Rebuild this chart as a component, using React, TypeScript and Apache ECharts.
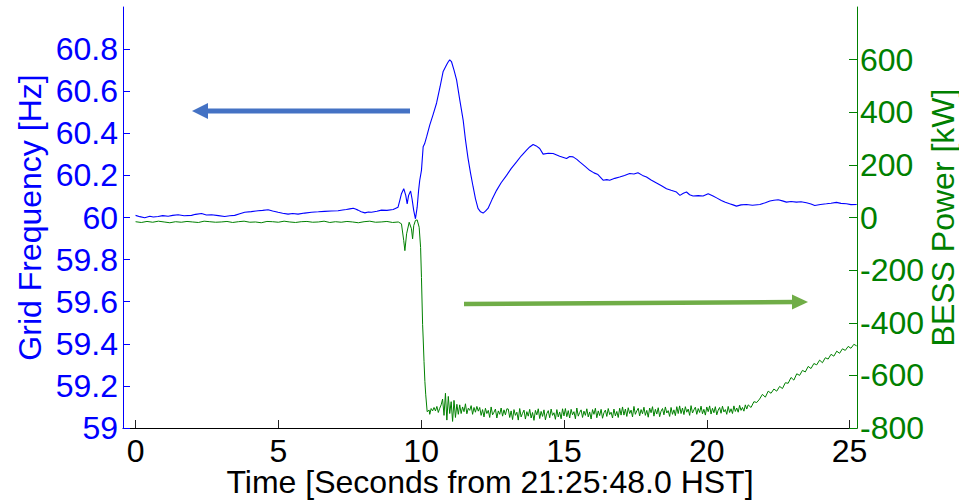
import React, { useEffect, useRef } from "react";
import * as echarts from "echarts";

// ---- tick labels ----
const X_TICKS = [0, 5, 10, 15, 20, 25];
const FREQ_TICKS = [59, 59.2, 59.4, 59.6, 59.8, 60, 60.2, 60.4, 60.6, 60.8];
const POWER_TICKS = [-800, -600, -400, -200, 0, 200, 400, 600];

// ---- grid frequency [Hz], [time s, value] ----
const FREQ: [number, number][] = [
  [0.0, 60.01], [0.15, 60.004], [0.32, 59.999], [0.5, 60.006], [0.62, 60.002], [0.79, 60.005],
  [0.95, 60.009], [1.14, 60.006], [1.3, 60.01], [1.49, 60.013], [1.7, 60.008], [1.96, 60.01],
  [2.1, 60.015], [2.31, 60.019], [2.48, 60.012], [2.66, 60.013], [2.9, 60.009], [3.12, 60.005],
  [3.3, 60.008], [3.47, 60.01], [3.65, 60.018], [3.82, 60.025], [4.05, 60.028], [4.29, 60.032],
  [4.45, 60.034], [4.64, 60.037], [4.8, 60.031], [4.99, 60.025], [5.15, 60.02], [5.34, 60.016],
  [5.5, 60.019], [5.69, 60.016], [5.92, 60.021], [6.16, 60.025], [6.4, 60.027], [6.62, 60.029],
  [6.85, 60.031], [7.09, 60.032], [7.25, 60.036], [7.38, 60.038], [7.5, 60.041], [7.62, 60.044],
  [7.7, 60.04], [7.79, 60.035], [7.9, 60.027], [8.03, 60.022], [8.15, 60.026], [8.26, 60.025],
  [8.45, 60.03], [8.61, 60.035], [8.8, 60.034], [9.02, 60.038], [9.19, 60.049], [9.25, 60.08],
  [9.31, 60.113], [9.39, 60.137], [9.46, 60.105], [9.51, 60.065], [9.56, 60.105], [9.63, 60.126],
  [9.68, 60.089], [9.74, 60.033], [9.8, 59.994], [9.86, 60.049], [9.91, 60.129], [9.95, 60.177],
  [10.01, 60.224], [10.07, 60.336], [10.12, 60.35], [10.19, 60.383], [10.3, 60.439], [10.42, 60.49],
  [10.54, 60.544], [10.66, 60.62], [10.77, 60.694], [10.89, 60.726], [10.95, 60.74], [11.0, 60.749],
  [11.06, 60.741], [11.15, 60.7], [11.24, 60.654], [11.35, 60.56], [11.47, 60.463], [11.55, 60.37],
  [11.64, 60.282], [11.73, 60.21], [11.82, 60.145], [11.9, 60.09], [11.99, 60.043], [12.08, 60.027],
  [12.17, 60.021], [12.25, 60.03], [12.34, 60.043], [12.48, 60.085], [12.64, 60.129], [12.8, 60.165],
  [12.99, 60.2], [13.15, 60.232], [13.34, 60.264], [13.5, 60.292], [13.69, 60.32], [13.8, 60.335],
  [13.92, 60.347], [14.03, 60.34], [14.15, 60.328], [14.27, 60.301], [14.45, 60.305], [14.62, 60.304],
  [14.85, 60.291], [15.09, 60.28], [15.2, 60.29], [15.32, 60.288], [15.45, 60.276], [15.55, 60.264],
  [15.72, 60.245], [15.9, 60.224], [16.05, 60.212], [16.19, 60.204], [16.37, 60.177], [16.5, 60.18],
  [16.6, 60.177], [16.78, 60.186], [16.95, 60.192], [17.12, 60.2], [17.3, 60.209], [17.45, 60.207],
  [17.59, 60.213], [17.75, 60.2], [17.89, 60.192], [18.05, 60.178], [18.24, 60.164], [18.4, 60.152],
  [18.59, 60.137], [18.75, 60.129], [18.94, 60.121], [19.06, 60.105], [19.18, 60.115], [19.29, 60.121],
  [19.4, 60.108], [19.52, 60.102], [19.7, 60.104], [19.87, 60.102], [20.05, 60.113], [20.22, 60.102],
  [20.36, 60.092], [20.51, 60.081], [20.65, 60.072], [20.8, 60.065], [20.92, 60.06], [21.04, 60.054],
  [21.2, 60.06], [21.39, 60.062], [21.6, 60.058], [21.86, 60.062], [22.05, 60.07], [22.21, 60.078],
  [22.35, 60.082], [22.5, 60.084], [22.65, 60.079], [22.79, 60.073], [22.95, 60.076], [23.14, 60.073],
  [23.3, 60.075], [23.49, 60.07], [23.65, 60.064], [23.78, 60.057], [23.98, 60.062], [24.19, 60.065],
  [24.35, 60.068], [24.54, 60.072], [24.7, 60.067], [24.89, 60.065], [25.05, 60.061], [25.25, 60.062],
];

// ---- BESS power [kW] ----
// before the event, sampled every 0.2 s from t = 0
const POWER_PRE_START = 0;
const POWER_PRE_STEP = 0.2;
const POWER_PRE = [
  -16, -19, -15, -18, -14, -17, -20, -16, -18, -15,
  -17, -19, -14, -16, -18, -17, -15, -19, -16, -14,
  -18, -17, -20, -15, -16, -18, -14, -17, -19, -16,
  -15, -18, -17, -14, -19, -16, -18, -15, -17, -20,
  -16, -14, -18, -17, -15, -19, -17,
];
// the event, [time s, kW]
const POWER_EVENT: [number, number][] = [
  [9.31, -24], [9.39, -88], [9.43, -126], [9.49, -62], [9.58, -18], [9.66, -43], [9.7, -81],
  [9.74, -31], [9.8, -11], [9.86, -9], [9.93, -37], [9.98, -114], [10.01, -228], [10.05, -406],
  [10.07, -458], [10.1, -547], [10.13, -623], [10.16, -674], [10.21, -738], [10.28, -732],
  [10.3, -748], [10.35, -726], [10.4, -735],
];
// full discharge with ripple, sampled every 0.05 s from t = 10.45
const POWER_BAND_START = 10.45;
const POWER_BAND_STEP = 0.05;
const POWER_BAND = [
  -722, -735, -718, -741, -725, -712,
  -690, -752, -668, -770, -680, -745, -700, -775, -695, -760, -710, -748,
  -712, -745, -720, -738, -708, -746, -725, -733, -715, -748, -722, -740, -718, -736,
  -722, -752, -730, -758, -725, -745, -733, -760, -720, -750, -740, -728, -762, -735, -748, -724, -755, -731, -750, -727,
  -728, -760, -735, -768, -730, -752, -740, -770, -726, -758, -744, -732, -766, -738, -755, -729, -762, -741, -771, -733,
  -750, -727, -764, -737, -756, -731, -769, -745, -734, -761, -728, -752, -742, -767, -730, -758, -739, -765, -727, -754,
  -726, -757, -734, -762, -729, -750, -738, -765, -724, -755, -741, -731, -760, -736, -752, -727, -758, -739, -766, -730,
  -748, -725, -761, -735, -753, -729, -763, -742, -732, -756, -726, -749, -740, -762, -728, -754, -737, -760, -725, -751,
  -720, -751, -728, -756, -723, -745, -732, -758, -718, -748, -735, -725, -754, -730, -746, -721, -752, -733, -759, -724,
  -742, -719, -755, -729, -747, -723, -757, -736, -726, -750, -720, -743, -734, -756, -722, -748, -731, -753, -719, -745,
  -716, -745, -724, -749, -719, -740, -728, -752, -715, -743, -731, -721, -748, -726, -741, -717, -746, -729, -751, -720,
  -738, -716, -747, -725, -742, -719, -750, -732, -722, -744, -717, -739, -730, -748, -718, -741, -727, -745, -716, -737,
  -724, -740, -714, -733, -722, -736, -712, -728,
];
// ramp back, sampled every 0.1 s from t = 21.45
const POWER_RAMP_START = 21.45;
const POWER_RAMP_STEP = 0.1;
const POWER_RAMP = [
  -712, -722, -700, -703, -690, -672, -683, -660, -668, -652,
  -660, -642, -650, -628, -630, -608, -618, -594, -600, -581,
  -587, -566, -574, -555, -560, -542, -552, -533, -538, -520,
  -527, -508, -516, -499, -505, -490, -497, -482, -488,
];

const FONT = "'Liberation Sans', Arial, Helvetica, sans-serif";
const BLUE = "#0000FF";
const GREEN = "#008000";

function sampled(start: number, step: number, vals: number[]): [number, number][] {
  return vals.map((v, i) => [Math.round((start + i * step) * 1000) / 1000, v]);
}

export default function App() {
  const ref = useRef<HTMLDivElement>(null);
  useEffect(() => {
    if (!ref.current) return;
    const chart = echarts.init(ref.current, null, { renderer: "svg" });
    const powerData = [
      ...sampled(POWER_PRE_START, POWER_PRE_STEP, POWER_PRE),
      ...POWER_EVENT,
      ...sampled(POWER_BAND_START, POWER_BAND_STEP, POWER_BAND),
      ...sampled(POWER_RAMP_START, POWER_RAMP_STEP, POWER_RAMP),
    ];
    const fmt = (v: number) => String(Math.round(v * 10) / 10);
    chart.setOption({
      animation: false,
      backgroundColor: "#ffffff",
      grid: { left: 123, right: 102, top: 7, bottom: 73, containLabel: false, outerBoundsMode: "none" },
      xAxis: {
        type: "value",
        min: -0.44,
        max: 25.26,
        axisLine: { show: true, onZero: false, lineStyle: { color: "#000", width: 1 } },
        axisTick: { show: true, inside: true, length: 8, customValues: X_TICKS, lineStyle: { color: "#222" } },
        axisLabel: {
          customValues: X_TICKS,
          color: "#000",
          fontSize: 32,
          lineHeight: 26,
          fontFamily: FONT,
          margin: 10,
          formatter: fmt,
        },
        splitLine: { show: false },
        name: "Time [Seconds from 21:25:48.0 HST]",
        nameLocation: "middle",
        nameGap: 41,
        nameMoveOverlap: false,
        nameTextStyle: { color: "#000", fontSize: 32, lineHeight: 26, fontFamily: FONT },
      },
      yAxis: [
        {
          type: "value",
          position: "left",
          min: 59,
          max: 61,
          axisLine: { show: true, onZero: false, lineStyle: { color: BLUE, width: 1 } },
          axisTick: { show: true, inside: true, length: 7, customValues: FREQ_TICKS, lineStyle: { color: BLUE } },
          axisLabel: {
            customValues: FREQ_TICKS,
            color: BLUE,
            fontSize: 32,
            fontFamily: FONT,
            margin: 5,
            formatter: fmt,
          },
          splitLine: { show: false },
          name: "Grid Frequency [Hz]",
          nameLocation: "middle",
          nameRotate: 90,
          nameGap: 80,
          nameMoveOverlap: false,
          nameTextStyle: { color: BLUE, fontSize: 32, lineHeight: 26, fontFamily: FONT },
        },
        {
          type: "value",
          position: "right",
          min: -800,
          max: 800,
          axisLine: { show: true, onZero: false, lineStyle: { color: GREEN, width: 1 } },
          axisTick: { show: true, inside: true, length: 8, customValues: POWER_TICKS, lineStyle: { color: GREEN } },
          axisLabel: {
            customValues: POWER_TICKS,
            color: GREEN,
            fontSize: 32,
            fontFamily: FONT,
            margin: 3,
            formatter: fmt,
          },
          splitLine: { show: false },
          name: "BESS Power [kW]",
          nameLocation: "middle",
          nameRotate: 90,
          nameGap: 73,
          nameMoveOverlap: false,
          nameTextStyle: { color: GREEN, fontSize: 32, lineHeight: 26, fontFamily: FONT },
        },
      ],
      series: [
        {
          type: "line",
          name: "Grid Frequency",
          yAxisIndex: 0,
          data: FREQ,
          showSymbol: false,
          symbol: "none",
          lineStyle: { color: BLUE, width: 1.1 },
          clip: true,
        },
        {
          type: "line",
          name: "BESS Power",
          yAxisIndex: 1,
          data: powerData,
          showSymbol: false,
          symbol: "none",
          lineStyle: { color: GREEN, width: 1 },
          clip: true,
        },
      ],
      graphic: [
        { type: "line", shape: { x1: 410, y1: 111, x2: 205, y2: 111 }, style: { stroke: "#4472C4", lineWidth: 5 } },
        { type: "polygon", shape: { points: [[192, 111], [208, 103], [208, 119]] }, style: { fill: "#4472C4" } },
        { type: "line", shape: { x1: 464, y1: 304, x2: 795, y2: 302 }, style: { stroke: "#70AD47", lineWidth: 4.5 } },
        { type: "polygon", shape: { points: [[808, 302], [792, 294.5], [792, 309.5]] }, style: { fill: "#70AD47" } },
      ],
    });
    return () => chart.dispose();
  }, []);
  return (
    <div
      ref={ref}
      style={{ position: "fixed", left: 0, top: 0, width: 959, height: 501, background: "#fff" }}
    />
  );
}
